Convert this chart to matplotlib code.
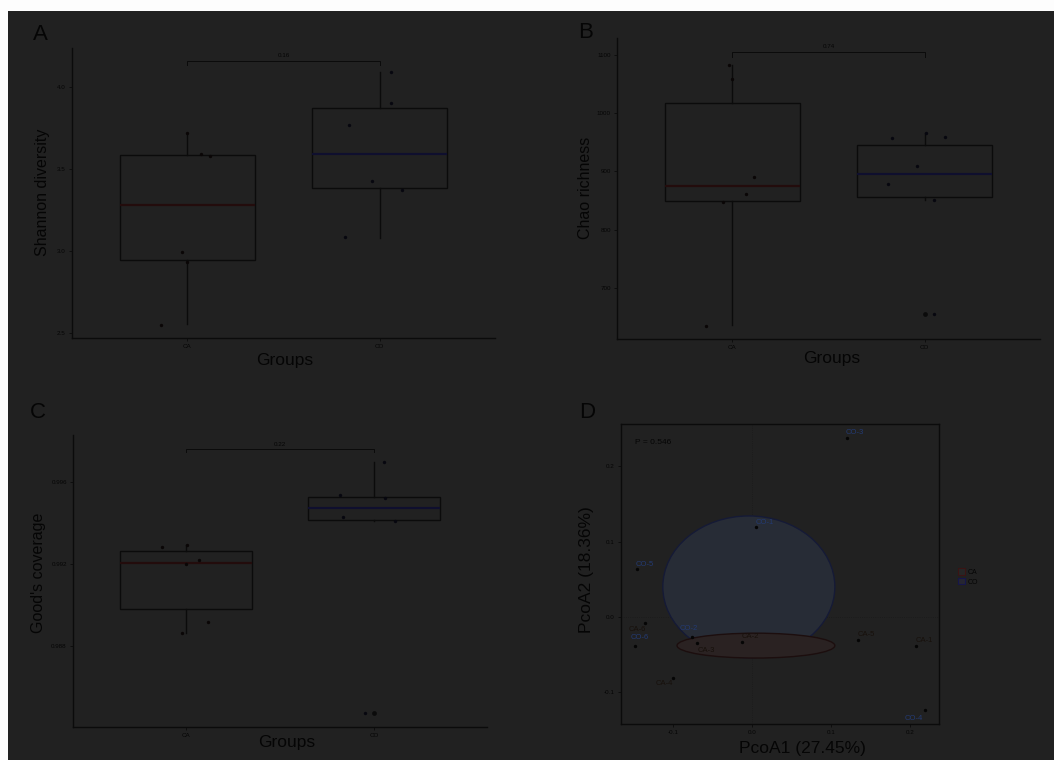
#!/usr/bin/env python3
"""Alpha diversity boxplots (A-C) and PCoA (D), dark-toned figure."""

import matplotlib

matplotlib.use("Agg")
import matplotlib.pyplot as plt
from matplotlib.patches import Ellipse, Patch, Rectangle

plt.rcParams["font.family"] = ["Liberation Sans", "DejaVu Sans"]

W, H = 1054, 760

# ---------------------------------------------------------------------------
# Data
# ---------------------------------------------------------------------------
groups = ["CA", "CO"]

# Panel A - Shannon diversity
shannon_box = {
    "CA": dict(q1=2.945, med=3.28, q3=3.585, whislo=2.555, whishi=3.72, fliers=[]),
    "CO": dict(q1=3.384, med=3.591, q3=3.872, whislo=3.079, whishi=4.09, fliers=[]),
}
shannon_pts_ca = [2.549, 2.994, 2.933, 3.72, 3.591, 3.579]
shannon_pts_co = [4.09, 3.90, 3.77, 3.427, 3.372, 3.085]
shannon_jit_ca = [-0.135, -0.026, 0.0, 0.0, 0.073, 0.12]
shannon_jit_co = [0.057, 0.057, -0.16, -0.042, 0.115, -0.18]
shannon_p = "0.16"

# Panel B - Chao richness
chao_box = {
    "CA": dict(q1=849.4, med=875.1, q3=1017.6, whislo=636.5, whishi=1082.8, fliers=[]),
    "CO": dict(q1=856.2, med=895.7, q3=945.5, whislo=851.1, whishi=966.1, fliers=[655.4]),
}
chao_pts_ca = [1082.8, 1058.8, 890.6, 861.4, 634.8, 848.0]
chao_pts_co = [957.5, 966.1, 959.2, 909.4, 878.5, 851.1, 655.4]
chao_jit_ca = [-0.02, 0.0, 0.115, 0.07, -0.135, -0.05]
chao_jit_co = [-0.17, 0.005, 0.105, -0.04, -0.19, 0.047, 0.047]
chao_p = "0.74"

# Panel C - Good's coverage
goods_box = {
    "CA": dict(q1=0.98980, med=0.99205, q3=0.99263, whislo=0.98863, whishi=0.99293, fliers=[]),
    "CO": dict(q1=0.99415, med=0.99473, q3=0.99527, whislo=0.99410, whishi=0.99698, fliers=[0.98473]),
}
goods_pts_ca = [0.99283, 0.99293, 0.99220, 0.99200, 0.98917, 0.98863]
goods_pts_co = [0.99698, 0.99537, 0.99522, 0.99429, 0.99410, 0.98473]
goods_jit_ca = [-0.128, 0.005, 0.07, 0.0, 0.117, -0.02]
goods_jit_co = [0.053, -0.181, 0.059, -0.165, 0.112, -0.048]
goods_p = "0.22"

# Panel D - PCoA
pcoa_labels = ["CO-3", "CO-1", "CO-5", "CA-6", "CO-6", "CO-2",
               "CA-3", "CA-2", "CA-5", "CA-1", "CA-4", "CO-4"]
pcoa_x = [0.120, 0.005, -0.146, -0.135, -0.148, -0.076,
          -0.070, -0.013, 0.134, 0.208, -0.100, 0.219]
pcoa_y = [0.238, 0.120, 0.064, -0.008, -0.038, -0.026,
          -0.034, -0.033, -0.030, -0.038, -0.081, -0.123]
# label offsets in points (ggrepel-like placement)
pcoa_dx = [6, 6, 6, -6, 3, -2, 7, 6, 6, 6, -6, -8]
pcoa_dy = [4, 3, 3, -5, 6, 6, -6, 4, 4, 4, -4, -6]
# stat_ellipse outlines (center x, center y, width, height)
ellipse_ca = (0.005, -0.038, 0.200, 0.033)
ellipse_co = (-0.004, 0.040, 0.218, 0.188)
pcoa_p = "P = 0.546"
pcoa_xlab = "PcoA1 (27.45%)"
pcoa_ylab = "PcoA2 (18.36%)"

# ---------------------------------------------------------------------------
# Styling
# ---------------------------------------------------------------------------
BG = "#212121"
INK = "#050505"
LINE = "#0b0b0b"
MED = {"CA": "#230c0c", "CO": "#0f0f2e"}
PT = {"CA": "#0a0606", "CO": "#07070f"}
LAB = {"CA": "#17100b", "CO": "#233a72"}


def rect(x0, y0, x1, y1):
    """Pixel box (top-left origin) -> figure fraction rect."""
    return [x0 / W, 1 - y1 / H, (x1 - x0) / W, (y1 - y0) / H]


def ftext(fig, x, y, s, **kw):
    fig.text(x / W, 1 - y / H, s, color=INK, ha="center", va="center", **kw)


def style_axes(ax, full_frame=False):
    ax.set_facecolor(BG)
    for side in ["top", "right"]:
        ax.spines[side].set_visible(full_frame)
    for sp in ax.spines.values():
        sp.set_color(LINE)
        sp.set_linewidth(1.0)
    ax.tick_params(colors=LINE, labelcolor=INK, labelsize=4.5,
                   length=2.5, width=0.6, pad=2)


def box_panel(ax, box, pts_ca, pts_co, jit_ca, jit_co, p_txt,
              ylim, yticks, yticklabels, bracket_y, tip):
    style_axes(ax)
    stats = []
    for g in groups:
        s = dict(box[g])
        s["label"] = g
        stats.append(s)
    bp = ax.bxp(stats, positions=[1, 2], widths=0.7, showcaps=False,
                patch_artist=True,
                boxprops=dict(facecolor="none", edgecolor=LINE, linewidth=1.0),
                whiskerprops=dict(color=LINE, linewidth=1.0),
                flierprops=dict(marker="o", markersize=2.4,
                                markerfacecolor=LINE, markeredgecolor=LINE),
                medianprops=dict(linewidth=1.6))
    for med, g in zip(bp["medians"], groups):
        med.set_color(MED[g])
    ax.scatter([1 + j for j in jit_ca], pts_ca, s=6, color=PT["CA"], zorder=4, lw=0)
    ax.scatter([2 + j for j in jit_co], pts_co, s=6, color=PT["CO"], zorder=4, lw=0)
    # significance bracket
    ax.plot([1, 1, 2, 2], [bracket_y - tip, bracket_y, bracket_y, bracket_y - tip],
            color=LINE, lw=0.7)
    ax.text(1.5, bracket_y + tip * 0.6, p_txt, ha="center", va="bottom",
            fontsize=4.5, color=INK)
    ax.set_xlim(0.4, 2.6)
    ax.set_ylim(*ylim)
    ax.set_xticks([1, 2])
    ax.set_xticklabels(groups)
    ax.set_yticks(yticks)
    ax.set_yticklabels(yticklabels)


fig = plt.figure(figsize=(W / 100, H / 100), dpi=100, facecolor=BG)

# white margins at top and left
fig.patches.append(Rectangle((0, 1 - 11 / H), 1, 11 / H, transform=fig.transFigure,
                             facecolor="#fdfdfd", edgecolor="none", zorder=-1))
fig.patches.append(Rectangle((0, 0), 8 / W, 1, transform=fig.transFigure,
                             facecolor="#fdfdfd", edgecolor="none", zorder=-1))

# Panel A
axA = fig.add_axes(rect(72, 48, 495, 338))
box_panel(axA, shannon_box, shannon_pts_ca, shannon_pts_co,
          shannon_jit_ca, shannon_jit_co, shannon_p,
          (2.4695, 4.238), [2.5, 3.0, 3.5, 4.0], ["2.5", "3.0", "3.5", "4.0"],
          4.159, 0.025)
ftext(fig, 40, 35, "A", fontsize=16)
ftext(fig, 42, 192, "Shannon diversity", fontsize=11.5, rotation=90)
ftext(fig, 285, 361, "Groups", fontsize=12.5)

# Panel B
axB = fig.add_axes(rect(617, 38, 1040, 339))
box_panel(axB, chao_box, chao_pts_ca, chao_pts_co,
          chao_jit_ca, chao_jit_co, chao_p,
          (612.4, 1129.2), [700, 800, 900, 1000, 1100],
          ["700", "800", "900", "1000", "1100"], 1105.2, 8)
ftext(fig, 586, 32, "B", fontsize=16)
ftext(fig, 585, 188, "Chao richness", fontsize=11.5, rotation=90)
ftext(fig, 832, 359, "Groups", fontsize=12.5)

# Panel C
axC = fig.add_axes(rect(73, 435, 487, 727))
box_panel(axC, goods_box, goods_pts_ca, goods_pts_co,
          goods_jit_ca, goods_jit_co, goods_p,
          (0.98405, 0.99829), [0.988, 0.992, 0.996],
          ["0.988", "0.992", "0.996"], 0.99761, 0.00015)
ftext(fig, 38, 413, "C", fontsize=16)
ftext(fig, 38, 573, "Good's coverage", fontsize=11.5, rotation=90)
ftext(fig, 287, 743, "Groups", fontsize=12.5)

# Panel D
axD = fig.add_axes(rect(621, 424, 939, 724))
style_axes(axD, full_frame=True)
axD.axhline(0, color="#1a1a1a", lw=0.6, ls=":", zorder=0)
axD.axvline(0, color="#1a1a1a", lw=0.6, ls=":", zorder=0)
for (cx, cy, ew, eh), fc, ec in [(ellipse_co, "#272c36", "#151a36"),
                                  (ellipse_ca, "#2a2222", "#1c0e0e")]:
    axD.add_patch(Ellipse((cx, cy), ew, eh, facecolor=fc, edgecolor=ec,
                          lw=1.0, zorder=1))
axD.scatter(pcoa_x, pcoa_y, s=6, color=INK, zorder=4, lw=0)
for lab, x, y, dx, dy in zip(pcoa_labels, pcoa_x, pcoa_y, pcoa_dx, pcoa_dy):
    g = lab.split("-")[0]
    axD.annotate(lab, (x, y), xytext=(dx, dy), textcoords="offset points",
                 ha="center", va="center", fontsize=5.5, color=LAB[g], zorder=5)
axD.text(0.045, 0.94, pcoa_p, transform=axD.transAxes, fontsize=6,
         color=INK, ha="left", va="center")
axD.set_xlim(-0.166, 0.237)
axD.set_ylim(-0.142, 0.256)
axD.set_xticks([-0.1, 0.0, 0.1, 0.2])
axD.set_xticklabels(["-0.1", "0.0", "0.1", "0.2"])
axD.set_yticks([-0.1, 0.0, 0.1, 0.2])
axD.set_yticklabels(["-0.1", "0.0", "0.1", "0.2"])
handles = [Patch(facecolor="#262626", edgecolor="#3a1414", lw=0.8, label="CA"),
           Patch(facecolor="#262631", edgecolor="#16164a", lw=0.8, label="CO")]
leg = axD.legend(handles=handles, loc="center left", bbox_to_anchor=(1.04, 0.49),
                 frameon=False, fontsize=5, handlelength=1.0, handleheight=1.0,
                 handletextpad=0.4, labelspacing=0.3)
for t in leg.get_texts():
    t.set_color(INK)
ftext(fig, 587, 413, "D", fontsize=16)
ftext(fig, 587, 570, pcoa_ylab, fontsize=12.5, rotation=90)
ftext(fig, 802, 748, pcoa_xlab, fontsize=12.5)

fig.savefig("out.png", dpi=100, facecolor=BG)
